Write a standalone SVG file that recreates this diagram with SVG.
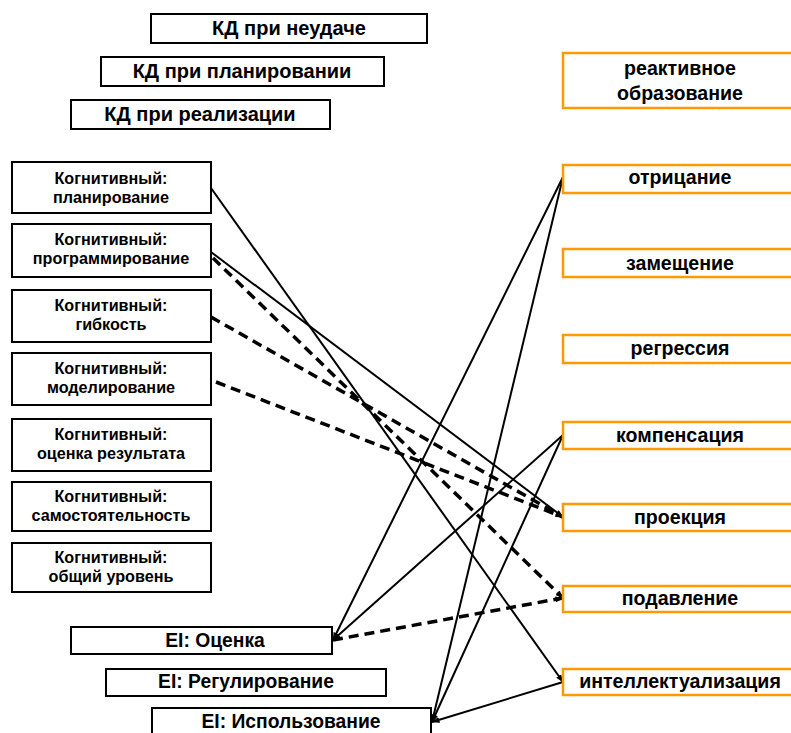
<svg xmlns="http://www.w3.org/2000/svg" width="791" height="733" viewBox="0 0 791 733">
<style>
.b{fill:#fff;stroke:#000;stroke-width:2}
.o{fill:#fff;stroke:#FF9900;stroke-width:2.5}
text{font-family:"Liberation Sans",Arial,sans-serif;font-weight:bold;text-anchor:middle;fill:#000}
.kd{font-size:20px}
.cg{font-size:16.2px}
.ei{font-size:19.3px}
.rt{font-size:19.6px}
.s{stroke:#000;stroke-width:2;fill:none}
.d{stroke:#000;stroke-width:3.5;fill:none;stroke-dasharray:10 6}
</style>
<defs>
<marker id="ah" markerUnits="userSpaceOnUse" markerWidth="8" markerHeight="6" refX="7.5" refY="3" orient="auto">
<path d="M0,0 L8,3 L0,6 Z" fill="#000"/>
</marker>
</defs>
<rect width="791" height="733" fill="#fff"/>
<g id="connectors">
<line class="s" x1="211" y1="188" x2="563" y2="682" marker-end="url(#ah)"/>
<line class="s" x1="211" y1="252" x2="563" y2="517" marker-end="url(#ah)"/>
<line class="d" x1="213" y1="258" x2="563" y2="598" marker-end="url(#ah)"/>
<line class="d" x1="211" y1="317" x2="563" y2="517" marker-end="url(#ah)"/>
<line class="d" x1="216" y1="382" x2="563" y2="517" marker-end="url(#ah)"/>
<line class="s" x1="563" y1="177" x2="333" y2="640" marker-end="url(#ah)"/>
<line class="s" x1="563" y1="435" x2="333" y2="640" marker-end="url(#ah)"/>
<line class="d" x1="333" y1="640" x2="563" y2="598" marker-end="url(#ah)"/>
<line class="s" x1="563" y1="177" x2="432" y2="722" marker-end="url(#ah)"/>
<line class="s" x1="563" y1="435" x2="432" y2="722" marker-end="url(#ah)"/>
<line class="s" x1="563" y1="682" x2="432" y2="722" marker-end="url(#ah)"/>
</g>
<g id="kd1"><rect class="b" x="151" y="14" width="276" height="29"/><text class="kd" x="289" y="35">КД при неудаче</text></g>
<g id="kd2"><rect class="b" x="101" y="57" width="283" height="29"/><text class="kd" x="242" y="78">КД при планировании</text></g>
<g id="kd3"><rect class="b" x="71" y="100" width="259" height="29"/><text class="kd" x="200" y="121">КД при реализации</text></g>
<g id="c1"><rect class="b" x="12" y="162" width="199" height="51"/><text class="cg" x="111" y="184">Когнитивный:</text><text class="cg" x="111" y="203">планирование</text></g>
<g id="c2"><rect class="b" x="12" y="224" width="199" height="53"/><text class="cg" x="111" y="245">Когнитивный:</text><text class="cg" x="111" y="264">программирование</text></g>
<g id="c3"><rect class="b" x="12" y="290" width="199" height="52"/><text class="cg" x="111" y="311">Когнитивный:</text><text class="cg" x="111" y="330">гибкость</text></g>
<g id="c4"><rect class="b" x="12" y="353" width="199" height="52"/><text class="cg" x="111" y="374">Когнитивный:</text><text class="cg" x="111" y="393">моделирование</text></g>
<g id="c5"><rect class="b" x="12" y="419" width="199" height="52"/><text class="cg" x="111" y="440">Когнитивный:</text><text class="cg" x="111" y="459">оценка результата</text></g>
<g id="c6"><rect class="b" x="12" y="482" width="199" height="49"/><text class="cg" x="111" y="502">Когнитивный:</text><text class="cg" x="111" y="521">самостоятельность</text></g>
<g id="c7"><rect class="b" x="12" y="543" width="199" height="49"/><text class="cg" x="111" y="563">Когнитивный:</text><text class="cg" x="111" y="582">общий уровень</text></g>
<g id="ei1"><rect class="b" x="71" y="627" width="261" height="27"/><text class="ei" x="215" y="647">EI: Оценка</text></g>
<g id="ei2"><rect class="b" x="106" y="669" width="280" height="27"/><text class="ei" x="246" y="688">EI: Регулирование</text></g>
<g id="ei3"><rect class="b" x="152" y="708" width="279" height="32"/><text class="ei" x="291" y="728">EI: Использование</text></g>
<g id="r1"><rect class="o" x="563" y="53" width="236" height="55"/><text class="rt" x="680" y="75">реактивное</text><text class="rt" x="680" y="100">образование</text></g>
<g id="r2"><rect class="o" x="563" y="165" width="236" height="28"/><text class="rt" x="680" y="184">отрицание</text></g>
<g id="r3"><rect class="o" x="563" y="249" width="236" height="28"/><text class="rt" x="680" y="270">замещение</text></g>
<g id="r4"><rect class="o" x="563" y="335" width="236" height="28"/><text class="rt" x="680" y="355">регрессия</text></g>
<g id="r5"><rect class="o" x="563" y="422" width="236" height="27"/><text class="rt" x="680" y="442">компенсация</text></g>
<g id="r6"><rect class="o" x="563" y="504" width="236" height="27"/><text class="rt" x="680" y="524">проекция</text></g>
<g id="r7"><rect class="o" x="563" y="586" width="236" height="26"/><text class="rt" x="680" y="605">подавление</text></g>
<g id="r8"><rect class="o" x="563" y="669" width="236" height="26"/><text class="rt" x="680" y="688">интеллектуализация</text></g>
</svg>
